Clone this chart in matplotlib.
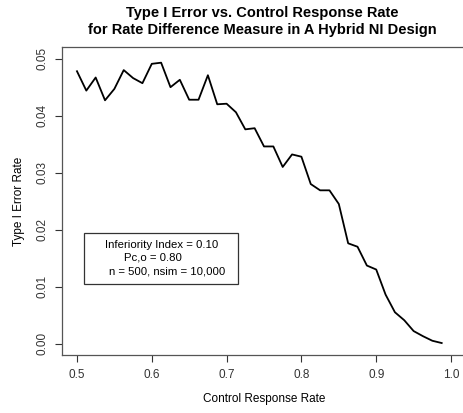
import matplotlib
matplotlib.use("Agg")
import matplotlib.pyplot as plt

plt.rcParams['font.family'] = ['Liberation Sans', 'DejaVu Sans']

# control response rate (x) and simulated type I error (y)
rate = [0.5, 0.5125, 0.525, 0.5375, 0.55, 0.5625, 0.575, 0.5875, 0.6, 0.6125,
        0.625, 0.6375, 0.65, 0.6625, 0.675, 0.6875, 0.7, 0.7125, 0.725, 0.7375,
        0.75, 0.7625, 0.775, 0.7875, 0.8, 0.8125, 0.825, 0.8375, 0.85, 0.8625,
        0.875, 0.8875, 0.9, 0.9125, 0.925, 0.9375, 0.95, 0.9625, 0.975, 0.9875]
type1 = [0.0478, 0.0444, 0.0467, 0.0427, 0.0447, 0.0480, 0.0466, 0.0457, 0.0491, 0.0493,
         0.0450, 0.0463, 0.0428, 0.0428, 0.0471, 0.0420, 0.0421, 0.0406, 0.0376, 0.0378,
         0.0346, 0.0346, 0.0310, 0.0332, 0.0328, 0.0280, 0.0269, 0.0269, 0.0245, 0.0176,
         0.0170, 0.0137, 0.0130, 0.0086, 0.0055, 0.0041, 0.0022, 0.0013, 0.0005, 0.0001]
xticks = [0.5, 0.6, 0.7, 0.8, 0.9, 1.0]
yticks = [0.00, 0.01, 0.02, 0.03, 0.04, 0.05]
legend_lines = ["Inferiority Index = 0.10", "Pc,o = 0.80", "n = 500, nsim = 10,000"]

W, H = 463, 413
fig = plt.figure(figsize=(W / 100, H / 100), dpi=100)
ax = fig.add_axes([62 / W, (H - 355) / H, 404 / W, (355 - 47.3) / H])

ax.plot(rate, type1, color='black', lw=1.3)
ax.set_xlim(0.48, 1.02)
ax.set_ylim(-0.002, 0.052)

ax.set_xticks(xticks)
ax.set_xticklabels(["%.1f" % v for v in xticks], fontsize=8.5)
ax.set_yticks(yticks)
ax.set_yticklabels(["%.2f" % v for v in yticks], fontsize=8.5, rotation=90, va='center')
ax.tick_params(direction='out', length=5, width=0.8, colors='#333333', pad=5)
for s in ax.spines.values():
    s.set_color('#555555')
    s.set_linewidth(0.9)

ax.set_xlabel("Control Response Rate", fontsize=8.5, labelpad=9)
ax.set_ylabel("Type I Error Rate", fontsize=8.5, labelpad=8)

fig.text(262 / W, 1 - 13 / H, "Type I Error vs. Control Response Rate",
         ha='center', va='center', fontsize=10.5, fontweight='bold')
fig.text(262 / W, 1 - 30 / H, "for Rate Difference Measure in A Hybrid NI Design",
         ha='center', va='center', fontsize=10.5, fontweight='bold')

# legend box drawn in figure pixel coordinates
box = plt.Rectangle((84.3 / W, 1 - 284.3 / H), (237.7 - 84.3) / W, (284.3 - 232.7) / H,
                    transform=fig.transFigure, fill=False, edgecolor='#333333', lw=0.9)
fig.add_artist(box)
fig.text(105 / W, 1 - 245 / H, legend_lines[0], ha='left', va='center', fontsize=8.2)
fig.text(124 / W, 1 - 258 / H, legend_lines[1], ha='left', va='center', fontsize=8.2)
fig.text(109 / W, 1 - 271 / H, legend_lines[2], ha='left', va='center', fontsize=8.2)

fig.savefig("out.png", dpi=100)
